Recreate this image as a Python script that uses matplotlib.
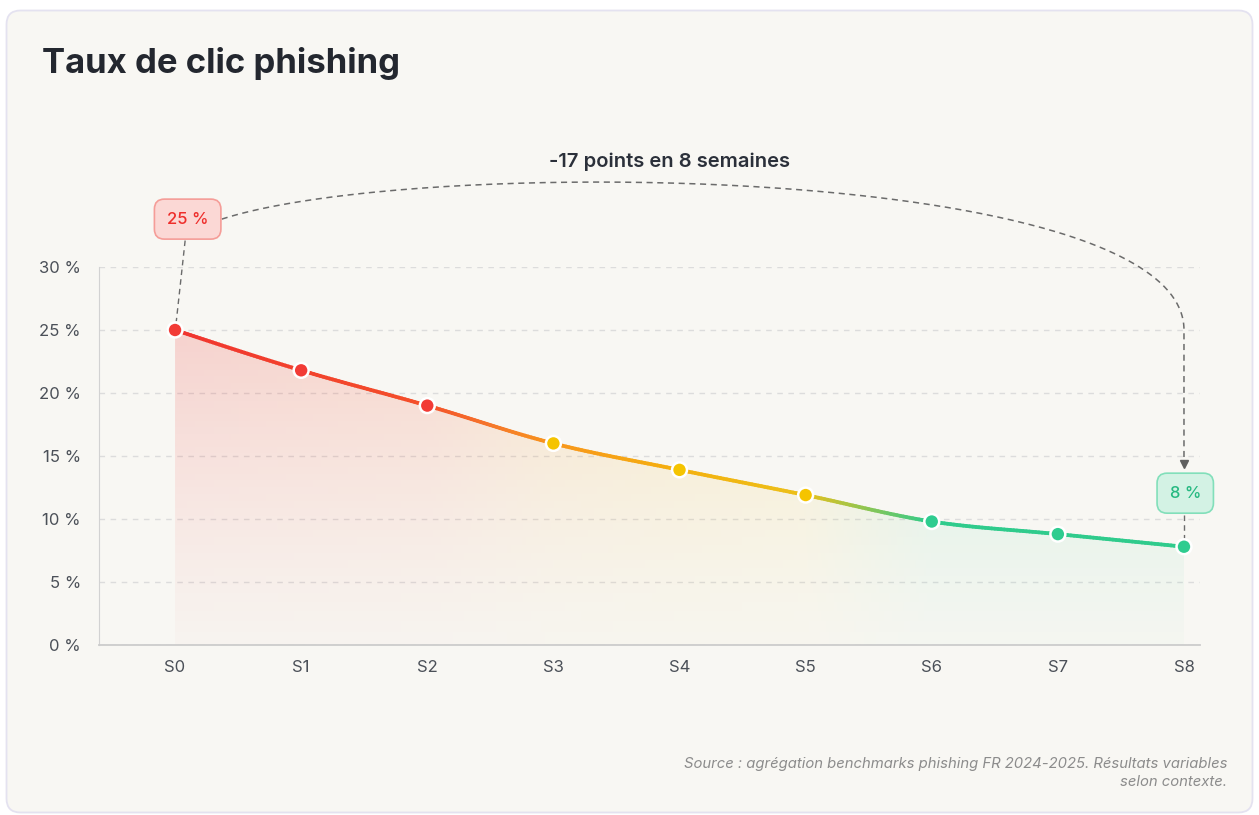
import numpy as np
import matplotlib
matplotlib.use("Agg")
import matplotlib.pyplot as plt
from matplotlib.colors import LinearSegmentedColormap
from matplotlib.collections import LineCollection
from matplotlib.patches import FancyBboxPatch, Polygon

plt.rcParams['font.family'] = ['Inter', 'DejaVu Sans']

# data
weeks = ["S0", "S1", "S2", "S3", "S4", "S5", "S6", "S7", "S8"]
click_rate = [25, 21.8, 19, 16, 13.9, 11.9, 9.8, 8.8, 7.8]
y_ticks = [0, 5, 10, 15, 20, 25, 30]
point_colors = ["#f23b36", "#f23b36", "#f23b36",
                "#f5c400", "#f5c400", "#f5c400",
                "#2ecc8f", "#2ecc8f", "#2ecc8f"]
start_label = "25 %"
end_label = "8 %"
delta_label = "-17 points en 8 semaines"
title = "Taux de clic phishing"
source = ("Source : agrégation benchmarks phishing FR 2024-2025. Résultats variables\n"
          "selon contexte.")

W, H = 1259, 815


def monotone_x(x, y, n=40):
    # same curve as d3.curveMonotoneX
    x = np.asarray(x, float)
    y = np.asarray(y, float)
    h = np.diff(x)
    s = np.diff(y) / h
    m = np.zeros_like(y)
    for i in range(1, len(y) - 1):
        p = (s[i - 1] * h[i] + s[i] * h[i - 1]) / (h[i - 1] + h[i])
        m[i] = (np.sign(s[i - 1]) + np.sign(s[i])) * min(abs(s[i - 1]), abs(s[i]), 0.5 * abs(p))
    m[0] = (3 * s[0] - m[1]) / 2
    m[-1] = (3 * s[-1] - m[-2]) / 2
    xs, ys = [], []
    for i in range(len(h)):
        t = np.linspace(0, 1, n, endpoint=(i == len(h) - 1))
        h00 = 2 * t**3 - 3 * t**2 + 1
        h10 = t**3 - 2 * t**2 + t
        h01 = -2 * t**3 + 3 * t**2
        h11 = t**3 - t**2
        ys.append(h00 * y[i] + h10 * h[i] * m[i] + h01 * y[i + 1] + h11 * h[i] * m[i + 1])
        xs.append(x[i] + t * h[i])
    return np.concatenate(xs), np.concatenate(ys)


fig = plt.figure(figsize=(W / 100, H / 100), dpi=100)
fig.patch.set_facecolor("white")

# card background
bg = fig.add_axes([0, 0, 1, 1], zorder=-5)
bg.set_xlim(0, W)
bg.set_ylim(H, 0)
bg.axis("off")
bg.add_patch(FancyBboxPatch((6.5, 10.5), W - 13, H - 13,
                            boxstyle="round,pad=0,rounding_size=14",
                            fc="#f8f7f3", ec="#e4e2f0", lw=1.3))

ax = fig.add_axes([99 / W, 1 - 645 / H, (1200 - 99) / W, (645 - 267) / H])
ax.set_facecolor("none")

x = np.arange(len(weeks))
cx, cy = monotone_x(x, click_rate)

cmap = LinearSegmentedColormap.from_list("trend", [
    (0.0, "#f0342f"), (2 / 8, "#f4502a"), (2.5 / 8, "#f5762b"), (3 / 8, "#f8961c"),
    (4 / 8, "#f4b00e"), (5 / 8, "#ecc01a"), (6 / 8, "#2fcb8c"), (1.0, "#2fcb8c")])

# gradient area under the curve
gx = np.linspace(0, 1, 400)
gy = np.linspace(0, 1, 200)
img = np.zeros((len(gy), len(gx), 4))
img[:, :, :3] = cmap(gx)[None, :, :3]
img[:, :, 3] = (0.02 + 0.17 * gy ** 1.2)[:, None]
top = max(click_rate)
im = ax.imshow(img, extent=[x[0], x[-1], 0, top], origin="lower",
               aspect="auto", zorder=1, interpolation="bilinear")
poly = Polygon(np.column_stack([np.r_[cx, x[-1], x[0]], np.r_[cy, 0, 0]]),
               closed=True, fc="none", ec="none", transform=ax.transData)
ax.add_patch(poly)
im.set_clip_path(poly)

# gradient line
pts = np.column_stack([cx, cy]).reshape(-1, 1, 2)
segs = np.concatenate([pts[:-1], pts[1:]], axis=1)
lc = LineCollection(segs, colors=cmap((cx[:-1] + cx[1:]) / 2 / x[-1]),
                    linewidths=2.7, capstyle="round", zorder=3)
ax.add_collection(lc)

ax.scatter(x, click_rate, s=115, c=point_colors, edgecolors="white",
           linewidths=1.8, zorder=5)

ax.set_xlim(-0.603, 8.127)
ax.set_ylim(0, 30)
ax.set_xticks(x)
ax.set_xticklabels(weeks)
ax.set_yticks(y_ticks)
ax.set_yticklabels([f"{v} %" for v in y_ticks])
ax.tick_params(length=0, labelsize=12, colors="#4b5058")
ax.tick_params(axis="y", pad=13)
ax.tick_params(axis="x", pad=11)
ax.yaxis.grid(True, color="#dcdcdc", lw=1, linestyle=(0, (4, 4)))
ax.set_axisbelow(True)
for side in ["top", "right"]:
    ax.spines[side].set_visible(False)
ax.spines["left"].set_color("#d2d2d2")
ax.spines["bottom"].set_color("#cccccc")
ax.spines["bottom"].set_linewidth(1.3)

# start / end labels
sx, sy = x[0] + 0.1, click_rate[0] + 8.8
ax.text(sx, sy, start_label, ha="center", va="center", fontsize=12,
        color="#ee2e2b", fontweight="medium", zorder=6, clip_on=False,
        bbox=dict(boxstyle="round,pad=0.75,rounding_size=0.6",
                  fc="#fbd8d5", ec="#f59d98", lw=1.2))
ax.plot([sx - 0.02, x[0] + 0.01], [sy - 1.7, click_rate[0] + 0.7],
        ls=(0, (4, 3)), color="#6b6b6b", lw=1, clip_on=False, zorder=2)

ex, ey = x[-1] + 0.01, click_rate[-1] + 4.25
ax.text(ex, ey, end_label, ha="center", va="center", fontsize=12,
        color="#26b981", fontweight="medium", zorder=6, clip_on=False,
        bbox=dict(boxstyle="round,pad=0.75,rounding_size=0.6",
                  fc="#d3f2e4", ec="#82dfba", lw=1.2))
ax.plot([x[-1], x[-1]], [ey - 1.7, click_rate[-1] + 0.6],
        ls=(0, (4, 3)), color="#6b6b6b", lw=1, clip_on=False, zorder=2)

# curved dashed arrow between the two labels
p0 = np.array([sx + 0.27, sy])
p1 = np.array([1.94, 38.9])
p2 = np.array([x[-1], 38.2])
p3 = np.array([x[-1], click_rate[0]])
t = np.linspace(0, 1, 200)[:, None]
bez = (1 - t)**3 * p0 + 3 * (1 - t)**2 * t * p1 + 3 * (1 - t) * t**2 * p2 + t**3 * p3
tip_y = click_rate[-1] + 6.25
arc = np.vstack([bez, [[x[-1], tip_y + 0.4]]])
ax.plot(arc[:, 0], arc[:, 1], ls=(0, (4, 3)), color="#6b6b6b", lw=1.1,
        clip_on=False, zorder=2)
ax.plot([x[-1]], [tip_y + 0.3], marker="v", ms=6, color="#5f5f5f",
        clip_on=False, zorder=2)

ax.text(3.92, 38.35, delta_label, ha="center", va="center", fontsize=14.5,
        fontweight="semibold", color="#2b303a", clip_on=False)

fig.text(42 / W, 1 - 63 / H, title, ha="left", va="center", fontsize=25,
         fontweight="bold", color="#23272f")
fig.text(1227 / W, 1 - 773 / H, source, ha="right", va="center", fontsize=10.7,
         style="italic", color="#8c8c8c", multialignment="right", linespacing=1.45)

fig.savefig("out.png", dpi=100, facecolor=fig.get_facecolor())
